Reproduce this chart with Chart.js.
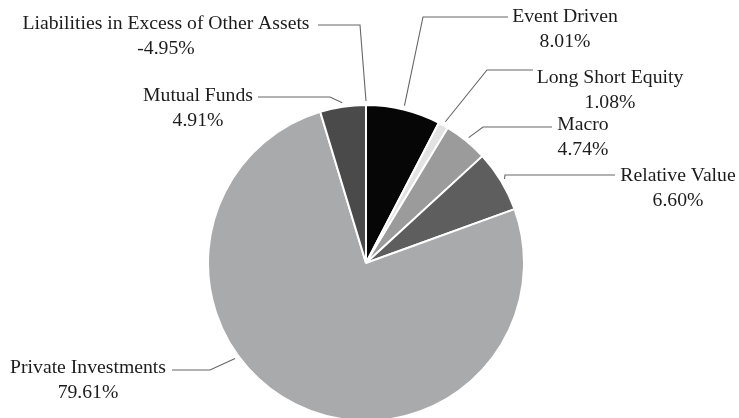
<!DOCTYPE html>
<html>
<head>
<meta charset="utf-8">
<script src="https://cdn.jsdelivr.net/npm/chart.js@4.4.0/dist/chart.umd.min.js"></script>
<style>
html,body{margin:0;padding:0;background:#fff;overflow:hidden;}
#wrap{width:739px;height:418px;overflow:hidden;}
</style>
</head>
<body>
<div id="wrap"><canvas id="pie" width="739" height="422"></canvas></div>
<script>
// Fund allocation (% of net assets)
const labels = ['Event Driven','Long Short Equity','Macro','Relative Value','Private Investments','Mutual Funds','Liabilities in Excess of Other Assets'];
const values = [8.01, 1.08, 4.74, 6.60, 79.61, 4.91, -4.95];
const colors = ['#060606','#e2e2e2','#9b9b9b','#5e5e5e','#a9aaac','#4a4a4a','#ffffff'];

// label placement: text centre, leader elbow and leader end, anchor fraction along the slice
const labelPos = [
  {tx:565, ty:17, ex:423, ey:17, hx:508, f:0.5},
  {tx:610, ty:78, ex:487, ey:70, hx:533, f:0.5},
  {tx:583, ty:125, ex:483, ey:127, hx:552, f:0.5},
  {tx:678, ty:176, ex:505, ey:175, hx:615, f:0.5},
  {tx:88, ty:368, ex:210, ey:370, hx:172, f:0.6},
  {tx:198, ty:96, ex:330, ey:97, hx:258, f:0.5},
  {tx:166, ty:24, ex:360, ey:25, hx:318, f:0.5}
];

const leaderLabels = {
  id:'leaderLabels',
  afterDraw(chart){
    const c = chart.ctx;
    const arcs = chart.getDatasetMeta(0).data;
    c.save();
    c.font = '19.7px "Liberation Serif"';
    c.textAlign = 'center';
    c.textBaseline = 'middle';
    arcs.forEach((arc,i)=>{
      const p = labelPos[i];
      const a = arc.startAngle + (arc.endAngle - arc.startAngle)*p.f;
      const r = arc.outerRadius + 4;
      const ax = arc.x + Math.cos(a)*r, ay = arc.y + Math.sin(a)*r;
      c.strokeStyle = '#666666';
      c.lineWidth = 1.1;
      c.beginPath();
      c.moveTo(ax, ay);
      c.lineTo(p.ex, p.ey);
      c.lineTo(p.hx, p.ey);
      c.stroke();
      c.fillStyle = '#1c1c1c';
      c.fillText(labels[i], p.tx, p.ty);
      c.fillText(values[i].toFixed(2)+'%', p.tx, p.ty+25);
    });
    c.restore();
  }
};

new Chart(document.getElementById('pie'),{
  type:'pie',
  data:{
    labels:labels,
    datasets:[{
      data:values.map(v=>Math.max(v,0)),
      backgroundColor:colors,
      borderColor:'#ffffff',
      borderWidth:2
    }]
  },
  options:{
    responsive:false,
    animation:false,
    layout:{padding:{top:104, bottom:0, left:0, right:7}},
    plugins:{legend:{display:false}, tooltip:{enabled:false}}
  },
  plugins:[leaderLabels]
});
</script>
</body>
</html>
